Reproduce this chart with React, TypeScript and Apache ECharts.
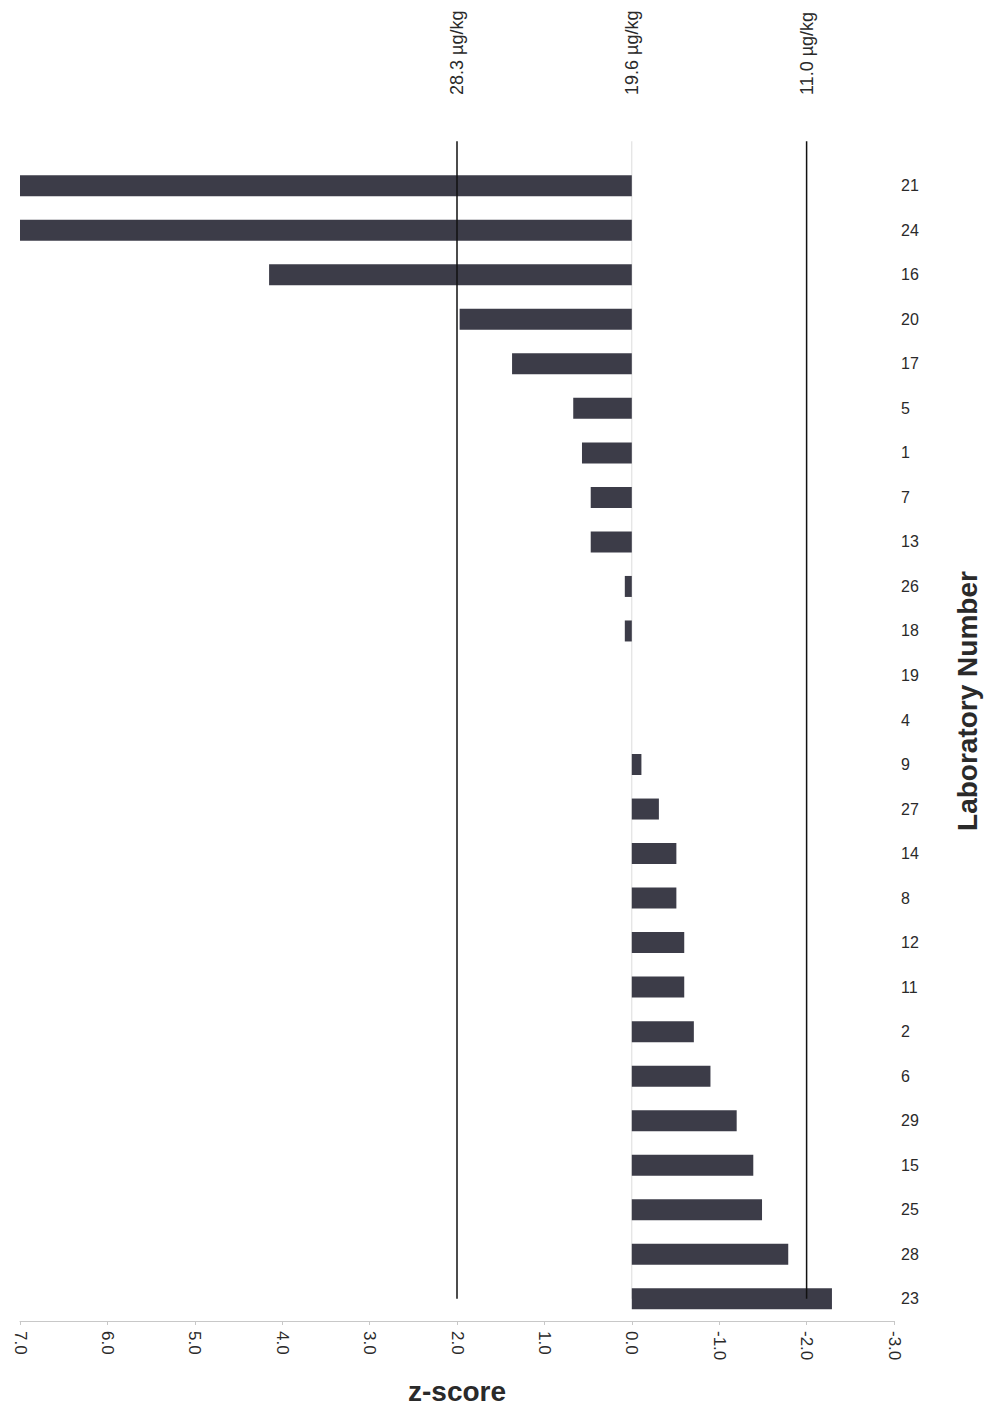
import React, { useEffect, useRef } from "react";
import * as echarts from "echarts";

const labs = ["21", "24", "16", "20", "17", "5", "1", "7", "13", "26", "18", "19", "4", "9", "27", "14", "8", "12", "11", "2", "6", "29", "15", "25", "28", "23"];
const zScores = [7.0, 7.0, 4.15, 1.97, 1.37, 0.67, 0.57, 0.47, 0.47, 0.08, 0.08, 0, 0, -0.11, -0.31, -0.51, -0.51, -0.6, -0.6, -0.71, -0.9, -1.2, -1.39, -1.49, -1.79, -2.29];
const limitZ = [2, 0, -2];
const limitConc = ["28.3 µg/kg", "19.6 µg/kg", "11.0 µg/kg"];
const limitColors = ["#111", "#dcdcdc", "#111"];

const FONT = "'Liberation Sans', Arial, sans-serif";

export default function App() {
  const ref = useRef<HTMLDivElement>(null);
  useEffect(() => {
    if (!ref.current) return;
    const chart = echarts.init(ref.current, null, { renderer: "svg" });
    const cats = ["", ...labs];
    const lastIdx = cats.length - 1;
    const lineSeries = limitZ.map((z, i) => ({
      type: "line",
      xAxisIndex: 0,
      yAxisIndex: 0,
      data: [[z, 0], [z, lastIdx]],
      symbol: "none",
      z: i === 1 ? 1 : 5,
      lineStyle: { color: limitColors[i], width: i === 1 ? 1 : 1.5 },
      silent: true,
    }));
    chart.setOption({
      animation: false,
      backgroundColor: "#fff",
      textStyle: { fontFamily: FONT },
      grid: { left: 20, right: 91, top: 119, bottom: 95 },
      xAxis: [
        {
          type: "value",
          min: -3,
          max: 7,
          interval: 1,
          inverse: true,
          position: "bottom",
          name: "z-score",
          nameLocation: "middle",
          nameGap: 56,
          nameTextStyle: { fontSize: 28, fontWeight: "bold", color: "#2a2a2a", fontFamily: FONT },
          axisLine: { show: true, lineStyle: { color: "#c8c8c8", width: 1 } },
          axisTick: { show: true, length: 4, lineStyle: { color: "#c8c8c8" } },
          splitLine: { show: false },
          axisLabel: {
            rotate: -90,
            margin: 10,
            fontSize: 17,
            color: "#2a2a2a",
            fontFamily: FONT,
            formatter: (v: number) => v.toFixed(1),
          },
        },
        {
          type: "value",
          min: -3,
          max: 7,
          interval: 1,
          inverse: true,
          position: "top",
          axisLine: { show: false },
          axisTick: { show: false },
          splitLine: { show: false },
          axisLabel: {
            rotate: -90,
            margin: 24,
            fontSize: 18,
            color: "#2a2a2a",
            fontFamily: FONT,
            formatter: (v: number) => {
              const idx = limitZ.indexOf(v);
              return idx >= 0 ? limitConc[idx] : "";
            },
          },
        },
      ],
      yAxis: {
        type: "category",
        data: cats,
        inverse: true,
        position: "right",
        name: "Laboratory Number",
        nameLocation: "middle",
        nameGap: 59,
        nameTextStyle: { fontSize: 28, fontWeight: "bold", color: "#2a2a2a", fontFamily: FONT, padding: [0, 0, 0, 38] },
        axisLine: { show: false },
        axisTick: { show: false },
        splitLine: { show: false },
        axisLabel: { margin: 7, fontSize: 16, color: "#2a2a2a", fontFamily: FONT, align: "left" },
      },
      series: [
        {
          type: "bar",
          xAxisIndex: 0,
          yAxisIndex: 0,
          data: zScores.map((z, i) => [z, labs[i]]),
          barWidth: 21,
          z: 3,
          itemStyle: { color: "#3c3c48" },
        },
        ...lineSeries,
      ],
    });
    return () => chart.dispose();
  }, []);
  return <div ref={ref} style={{ width: 989, height: 1416, position: "absolute", left: 0, top: 0 }} />;
}
